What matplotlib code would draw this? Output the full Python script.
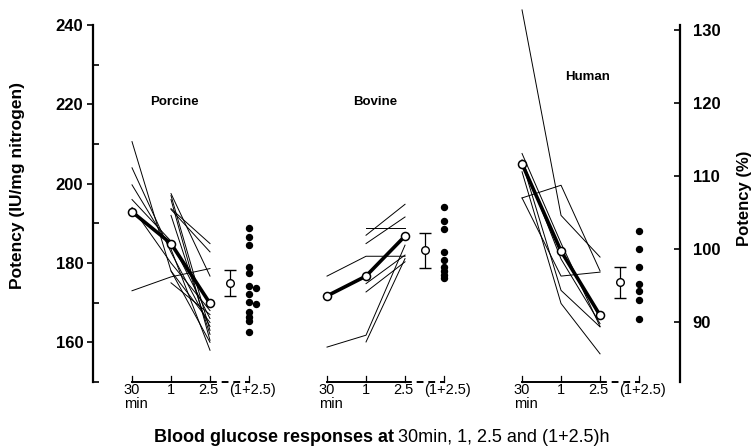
import matplotlib
matplotlib.use("Agg")
import matplotlib.pyplot as plt
import numpy as np

plt.rcParams['font.family'] = ['Liberation Sans', 'DejaVu Sans']

nan = np.nan

# time points inside each panel: 30 min, 1 h, 2.5 h, (1+2.5) h
tick_labels = ["30", "1", "2.5", "(1+2.5)"]
panel_names = ["Porcine", "Bovine", "Human"]

# individual assays (IU/mg nitrogen) at 30 min, 1 h, 2.5 h
porcine_lines = [
    [210.6, 178.0, 160.0],
    [204.0, 182.7, 164.0],
    [199.7, 183.5, 158.0],
    [196.0, 185.5, 166.0],
    [194.0, 180.0, 168.0],
    [173.0, 176.5, 178.6],
    [nan, 197.5, 176.7],
    [nan, 197.0, 163.0],
    [nan, 196.0, 160.5],
    [nan, 193.7, 184.9],
    [nan, 193.5, 182.8],
    [nan, 192.0, 162.0],
    [nan, 178.0, 165.0],
    [nan, 175.0, 167.0],
]
bovine_lines = [
    [176.7, 181.7, 181.7],
    [158.8, 161.8, 184.5],
    [nan, 160.1, 181.1],
    [nan, 188.7, 188.7],
    [nan, 187.0, 194.8],
    [nan, 184.9, 191.6],
    [nan, 172.7, 180.3],
    [nan, 174.8, 182.0],
]
human_lines = [
    [243.8, 192.0, 181.5],
    [196.4, 199.6, 178.0],
    [196.4, 176.7, 177.7],
    [207.6, 185.0, 164.0],
    [203.0, 169.8, 157.1],
    [205.5, 173.1, 163.9],
    [206.0, 181.0, 164.7],
]

# mean of each panel at 30 min, 1 h, 2.5 h
porcine_mean = [192.9, 184.9, 169.8]
bovine_mean = [171.7, 176.7, 186.8]
human_mean = [205.0, 183.0, 166.8]

# combined (1+2.5) h estimates: mean, error, individual values
combined_mean = [175.0, 183.2, 175.1]
combined_err = [3.2, 4.4, 3.9]
porcine_dots = [188.7, 186.6, 184.5, 178.9, 177.5, 174.3, 173.8, 172.3,
                170.2, 169.6, 167.7, 166.4, 165.3, 162.7]
porcine_dots_side = [0, 0, 0, 0, 0, 0, 1, 0, 0, 1, 0, 0, 0, 0]
bovine_dots = [194.0, 190.5, 188.6, 182.8, 180.7, 179.0, 177.9, 177.1, 176.2]
human_dots = [188.1, 183.6, 179.0, 174.8, 172.9, 170.6, 165.8]

all_lines = [porcine_lines, bovine_lines, human_lines]
all_means = [porcine_mean, bovine_mean, human_mean]
all_dots = [porcine_dots, bovine_dots, human_dots]
all_side = [porcine_dots_side, [0] * len(bovine_dots), [0] * len(human_dots)]

W, H = 755, 448
fig = plt.figure(figsize=(W / 100, H / 100), dpi=100)
ax = fig.add_axes([93 / W, 1 - 382 / H, (680 - 93) / W, (382 - 25) / H])
ax.set_xlim(-1, 14.05)
ax.set_ylim(150, 240)

ax2 = ax.twinx()
ax2.set_ylim(81.8, 130.7)

for s in ['top', 'bottom', 'right']:
    ax.spines[s].set_visible(False)
for s in ['top', 'bottom', 'left']:
    ax2.spines[s].set_visible(False)
ax.spines['left'].set_linewidth(1.6)
ax2.spines['right'].set_linewidth(1.6)

ax.set_xticks([])
ax.set_yticks([160, 180, 200, 220, 240])
ax.set_yticks([150, 170, 190, 210, 230], minor=True)
ax.tick_params(axis='y', which='major', direction='out', length=4, width=1.2,
               labelsize=12, pad=3)
ax.tick_params(axis='y', which='minor', direction='in', length=4, width=1.2)
for lab in ax.get_yticklabels():
    lab.set_fontweight('bold')

ax2.set_yticks([90, 100, 110, 120, 130])
ax2.tick_params(axis='y', direction='in', length=4, width=1.2, labelsize=12, pad=9)
for lab in ax2.get_yticklabels():
    lab.set_fontweight('bold')

trans = ax.get_xaxis_transform()


def ypx(py):
    return (382 - py) / 357


label_dx = [0, 0, -0.05, 0.08]

for g in range(3):
    off = g * 5
    x = np.arange(3) + off
    for row in all_lines[g]:
        ax.plot(x, row, color='black', lw=0.7, clip_on=False, zorder=2)
    ax.plot(x, all_means[g], color='black', lw=2.6, marker='o', ms=5.8,
            mfc='white', mec='black', mew=1.1, zorder=4)
    ax.errorbar(off + 2.5, combined_mean[g], yerr=combined_err[g], fmt='o',
                ms=5.5, mfc='white', mec='black', mew=1.0, ecolor='black',
                elinewidth=0.9, capsize=4, capthick=0.9, zorder=4)
    dx = np.array(all_side[g]) * 0.18
    ax.plot(off + 3 + dx, all_dots[g], 'o', color='black', ms=4.3, zorder=4)

    # little time axis under each panel
    ax.plot([off, off + 2], [0, 0], color='black', lw=1.4, transform=trans,
            clip_on=False)
    ax.plot([off + 2, off + 3], [0, 0], color='black', lw=1.4, transform=trans,
            clip_on=False, dashes=(3.5, 2.5))
    for k in range(4):
        ax.plot([off + k, off + k], [0, 0.018], color='black', lw=0.9,
                transform=trans, clip_on=False)
        ax.text(off + k + label_dx[k], ypx(383), tick_labels[k],
                transform=trans, ha='center', va='top', fontsize=10.5)
    ax.text(off - 0.2, ypx(397), "min", transform=trans, ha='left',
            va='top', fontsize=10.5)

ax.text(1.1, 220.6, "Porcine", ha='center', va='center', fontsize=9.5,
        fontweight='bold')
ax.text(6.23, 220.6, "Bovine", ha='center', va='center', fontsize=9.5,
        fontweight='bold')
ax.text(11.67, 226.9, "Human", ha='center', va='center', fontsize=9.5,
        fontweight='bold')

fig.text(18 / W, 1 - 185 / H, "Potency (IU/mg nitrogen)", rotation=90,
         ha='center', va='center', fontsize=12.5, fontweight='bold')
fig.text(744 / W, 1 - 198 / H, "Potency (%)", rotation=90,
         ha='center', va='center', fontsize=12, fontweight='bold')

fig.text(394 / W, 1 - 437 / H, "Blood glucose responses at", ha='right',
         va='center', fontsize=13, fontweight='bold')
fig.text(398 / W, 1 - 437 / H, "30min, 1, 2.5 and (1+2.5)h", ha='left',
         va='center', fontsize=13)

fig.savefig("out.png", dpi=100)
